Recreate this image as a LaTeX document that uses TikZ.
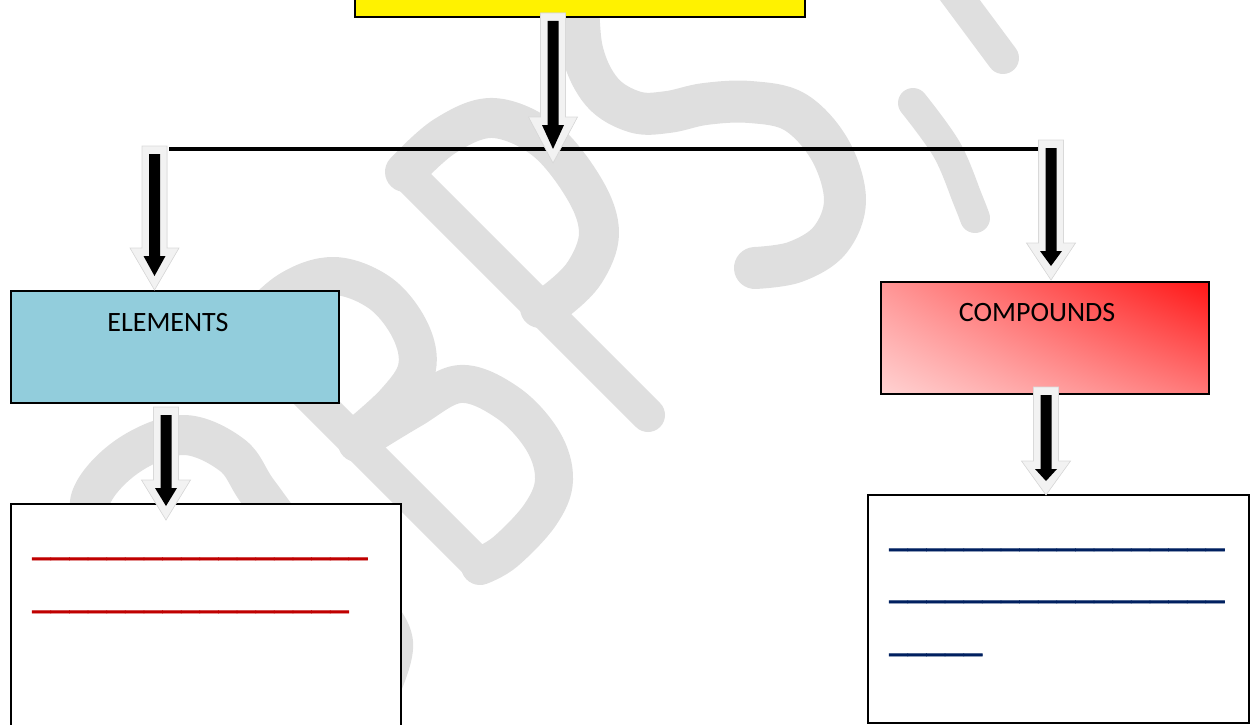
\documentclass[tikz,border=0pt]{standalone}
\usepackage{fontspec}
\setmainfont{Carlito}
\newfontfamily\blankfont[FakeBold=2.2]{Carlito}
\usetikzlibrary{calc,shadings}
\definecolor{wm}{HTML}{DFDFDF}
\definecolor{elemblue}{HTML}{92CDDC}
\definecolor{ulred}{HTML}{C00000}
\definecolor{ulblue}{HTML}{002060}
\definecolor{arrlight}{HTML}{F2F2F2}
\definecolor{arrshadow}{HTML}{B4B4B4}
\definecolor{cUL}{HTML}{FF9696}
\definecolor{cUR}{HTML}{FF1616}
\definecolor{cLL}{HTML}{FFD2D2}
\definecolor{cLR}{HTML}{FF7878}
\tikzset{
  wmark/.style={draw=wm, line width=#1, line cap=round, line join=round},
  wmark/.default=38pt,
  boxstyle/.style={draw=black, line width=1.5pt, inner sep=0pt, outer sep=0pt},
  lbl/.style={inner sep=0pt, font=\fontsize{28}{32}\selectfont, text=black},
  blank/.style={inner sep=0pt, font=\blankfont\fontsize{37.4}{40}\selectfont},
}
\newcommand\blockarr[3]{%
  \fill[arrshadow, shift={(3.5,3)}] ($(#1)+(-12.5,0)$) -- ($(#1)+(12.5,0)$) -- ($(#1|-#2)+(12.5,-#3)$) -- ($(#1|-#2)+(24.5,-#3)$) -- (#1|-#2) -- ($(#1|-#2)+(-24.5,-#3)$) -- ($(#1|-#2)+(-12.5,-#3)$) -- cycle;
  \filldraw[fill=arrlight, draw=gray!30, line width=0.6pt] ($(#1)+(-12.5,0)$) -- ($(#1)+(12.5,0)$) -- ($(#1|-#2)+(12.5,-#3)$) -- ($(#1|-#2)+(24.5,-#3)$) -- (#1|-#2) -- ($(#1|-#2)+(-24.5,-#3)$) -- ($(#1|-#2)+(-12.5,-#3)$) -- cycle;
  \fill[black] ($(#1)+(-5.5,8)$) -- ($(#1)+(5.5,8)$) -- ($(#1|-#2)+(5.5,-#3+8)$) -- ($(#1|-#2)+(11,-#3+8)$) -- ($(#1|-#2)+(0,-14)$) -- ($(#1|-#2)+(-11,-#3+8)$) -- ($(#1|-#2)+(-5.5,-#3+8)$) -- cycle;
}
\begin{document}
\begin{tikzpicture}[x=1pt,y=-1pt]
\useasboundingbox (0,0) rectangle (1251,725);
\clip (0,0) rectangle (1251,725);
% ---------- watermark ----------
\draw[wmark=40pt] plot[smooth, tension=0.6] coordinates {(110,545) (90,502) (125,458) (182,435) (232,455) (258,492) (300,545) (360,595) (393,642) (375,700)};
\draw[wmark=34pt] (245,331) -- (478,564);
\draw[wmark] plot[smooth, tension=0.6] coordinates {(245,331) (288,291) (334,276) (380,293) (410,330) (417,368) (395,402) (355,438)};
\draw[wmark] plot[smooth, tension=0.6] coordinates {(357,443) (411,410) (460,384) (508,403) (543,441) (554,480) (540,515) (505,552) (480,566)};
\draw[wmark=34pt] (405,172) -- (648,415);
\draw[wmark=40pt] plot[smooth, tension=0.6] coordinates {(405,172) (445,136) (493,118) (545,140) (585,190) (599,233) (585,272) (557,300) (540,308)};
\draw[wmark=42pt] plot[smooth, tension=0.6] coordinates {(578,-10) (582,50) (602,92) (635,112) (668,112) (705,104) (750,102) (795,112) (830,150) (845,200) (830,240) (795,262) (755,268)};
\draw[wmark=32pt] (945,-20) -- (1003,58);
\draw[wmark=30pt] plot[smooth, tension=0.6] coordinates {(913,103) (947,150) (968,200) (975,218)};
% ---------- boxes ----------
\node[boxstyle, fill=yellow, minimum width=450pt, minimum height=60pt] (topbox) at (580,-13) {};
\node[boxstyle, fill=elemblue, minimum width=328pt, minimum height=112pt] (elem) at (175,347) {};
\node[boxstyle, upper left=cUL, upper right=cUR, lower left=cLL, lower right=cLR, minimum width=328pt, minimum height=112pt] (comp) at (1045,338) {};
\node[boxstyle, fill=white, minimum width=390pt, minimum height=240pt] (ansL) at (206,624) {};
\node[boxstyle, fill=white, minimum width=381pt, minimum height=228pt] (ansR) at (1058.5,609) {};
% ---------- connectors ----------
\coordinate (hl) at (169,149);
\coordinate (hr) at (1038,149);
\draw[line width=4pt] (hl) -- (hr);
\coordinate (a1s) at (553,13);   \coordinate (a1t) at (553,163);
\coordinate (a2s) at (154.5,146); \coordinate (a2t) at (154.5,290);
\coordinate (a3s) at (1051,140); \coordinate (a3t) at (1051,280);
\coordinate (a4s) at (166,407);  \coordinate (a4t) at (166,520);
\coordinate (a5s) at (1046,387); \coordinate (a5t) at (1046,495);
\blockarr{a1s}{a1t}{46}
\blockarr{a2s}{a2t}{42}
\blockarr{a3s}{a3t}{37}
\blockarr{a4s}{a4t}{40}
\blockarr{a5s}{a5t}{34}
% ---------- texts ----------
\node[lbl, anchor=base] (elemtxt) at (168,331) {ELEMENTS};
\node[lbl, anchor=base] (comptxt) at (1037,321) {COMPOUNDS};
\node[blank, text=ulred, anchor=base west] (bl1) at (32,555) {\_\_\_\_\_\_\_\_\_\_\_\_\_\_\_\_\_\_};
\node[blank, text=ulred, anchor=base west] (bl2) at (32,608) {\_\_\_\_\_\_\_\_\_\_\_\_\_\_\_\_\_};
\node[blank, text=ulblue, anchor=base west] (br1) at (889,546) {\_\_\_\_\_\_\_\_\_\_\_\_\_\_\_\_\_\_};
\node[blank, text=ulblue, anchor=base west] (br2) at (889,598) {\_\_\_\_\_\_\_\_\_\_\_\_\_\_\_\_\_\_};
\node[blank, text=ulblue, anchor=base west] (br3) at (889,651) {\_\_\_\_\_};
\end{tikzpicture}
\end{document}
